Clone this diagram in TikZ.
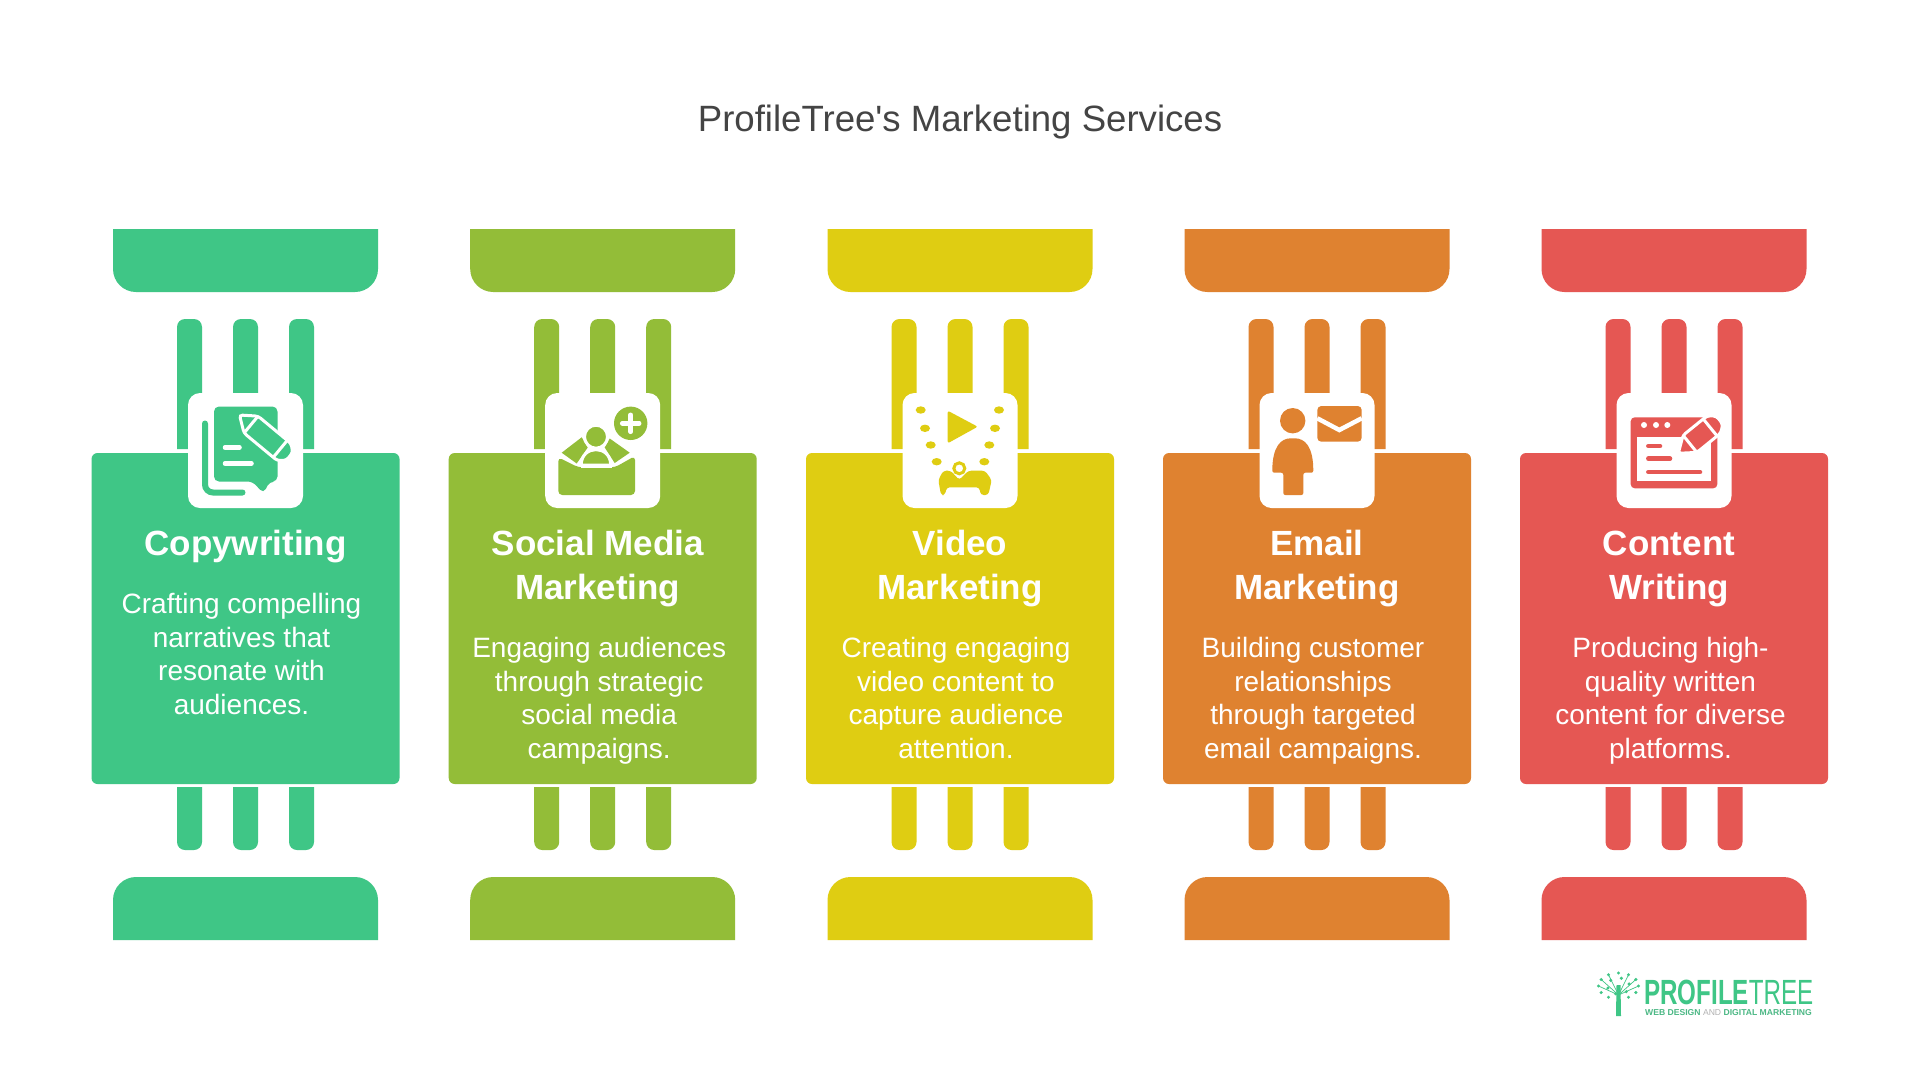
\documentclass[tikz,border=0pt]{standalone}
\usepackage{fontspec}
\setmainfont{Liberation Sans}
\newfontfamily\logofont[FakeStretch=0.69]{Liberation Sans}
\usetikzlibrary{positioning}

\definecolor{copyGreen}{HTML}{3FC686}
\definecolor{socialOlive}{HTML}{93BD38}
\definecolor{videoYellow}{HTML}{DFCD12}
\definecolor{mailOrange}{HTML}{DF8230}
\definecolor{writeRed}{HTML}{E55753}
\definecolor{titleGray}{HTML}{444444}

\tikzset{
  cardbox/.style={minimum width=308pt, minimum height=331pt, inner sep=0pt, rounded corners=6pt},
  iconbox/.style={minimum width=115pt, minimum height=115pt, inner sep=0pt, rounded corners=12pt, fill=white},
  headtext/.style={anchor=north, align=center, text=white, font=\fontsize{35}{44}\selectfont\bfseries, inner sep=0pt},
  bodytext/.style={anchor=north, align=center, text=white, font=\fontsize{28}{33.5}\selectfont, inner sep=0pt},
  cutline/.style={white, line width=4.5pt, line cap=round}
}

% pencil lying along x from its tip: colour, length
\newcommand{\pencilmark}[2]{
  \draw[draw=white, line width=3pt, fill=#1, rounded corners=3pt] (0,0) -- (15,-11) -- (#2-7,-11)
    -- (#2,-5) -- (#2,5) -- (#2-7,11) -- (15,11) -- cycle;
  \draw[white, line width=3pt] (15,-11) -- (15,11) (#2-12,-11) -- (#2-12,11);
}

\begin{document}
\begin{tikzpicture}[x=1pt, y=-1pt]
  \useasboundingbox[fill=white] (0,0) rectangle (1920,1080);

  \node[font=\fontsize{36.6}{44}\selectfont, text=titleGray] (heading) at (960,122) {ProfileTree\textquotesingle s Marketing Services};

  \foreach \i/\cx/\col/\head/\hdx/\body/\bdx in {
    1/245.5/copyGreen/{Copywriting}/0pt/{Crafting compelling\\narratives that\\resonate with\\audiences.}/-4pt,
    2/602.7/socialOlive/{Social Media\\Marketing}/-5pt/{Engaging audiences\\through strategic\\social media\\campaigns.}/1.5pt,
    3/960/videoYellow/{Video\\Marketing}/0pt/{Creating engaging\\video content to\\capture audience\\attention.}/-4pt,
    4/1317/mailOrange/{Email\\Marketing}/0pt/{Building customer\\relationships\\through targeted\\email campaigns.}/-4pt,
    5/1674/writeRed/{Content\\Writing}/-5pt/{Producing high-\\quality written\\content for diverse\\platforms.}/1.5pt} {
    % caps
    \fill[\col] (\cx-132.5,229) [rounded corners=23pt] -- (\cx-132.5,292) -- (\cx+132.5,292) [sharp corners] -- (\cx+132.5,229) -- cycle;
    \fill[\col] (\cx-132.5,940) [rounded corners=23pt] -- (\cx-132.5,877) -- (\cx+132.5,877) [sharp corners] -- (\cx+132.5,940) -- cycle;
    % bars
    \foreach \dx in {-56,0,56} {
      \fill[\col] (\cx+\dx-12.5,449) [rounded corners=8pt] -- (\cx+\dx-12.5,319) -- (\cx+\dx+12.5,319) [sharp corners] -- (\cx+\dx+12.5,449) -- cycle;
      \fill[\col] (\cx+\dx-12.5,787) [rounded corners=8pt] -- (\cx+\dx-12.5,850) -- (\cx+\dx+12.5,850) [sharp corners] -- (\cx+\dx+12.5,787) -- cycle;
    }
    \node[cardbox, fill=\col] (card\i) at (\cx,618.5) {};
    \node[iconbox] (icon\i) at (\cx,450.5) {};
    \node[headtext, xshift=\hdx] (head\i) at (\cx,524.8) {\rule{0pt}{30pt}\head};
    \node[bodytext, xshift=\bdx] (text\i) [below=27.7pt of head\i] {\strut\body};
  }

  % copywriting icon
  \begin{scope}[shift={(245.5,450.5)}]
    \fill[copyGreen, rounded corners=5pt] (-31.5,-44) -- (32,-44) -- (32,31) -- (24,31) -- (18,43) -- (7,31) -- (-31.5,31) -- cycle;
    \draw[copyGreen, line width=6pt, line cap=round, rounded corners=8pt] (-40.5,-27) -- (-40.5,42) -- (-3,42);
    \draw[cutline] (-20.5,-3) -- (-6,-3) (-20.5,13) -- (6,13);
    \begin{scope}[shift={(-6,-35.5)}, rotate=-39.7]
      \pencilmark{copyGreen}{65}
    \end{scope}
  \end{scope}

  % social media icon
  \begin{scope}[shift={(602.7,450.5)}]
    \fill[socialOlive, rounded corners=4pt] (-44.4,6.8) -- (-24.4,16.8) -- (12.3,16.8) -- (32.3,5.5) -- (32.3,44.5) -- (-44.4,44.5) -- cycle;
    \fill[socialOlive] (-41,2.2) -- (-21,-13.2) -- (-15,-3) -- (-26,13) -- cycle;
    \fill[socialOlive] (7,-12) -- (27,2.2) -- (12,12.5) -- (2,-3) -- cycle;
    \draw[draw=white, line width=3pt, fill=socialOlive] (-6.7,-13.8) circle (11.5pt);
    \draw[draw=white, line width=3pt, fill=socialOlive] (-21.5,14.5) .. controls (-21.5,-6) and (8,-6) .. (8,14.5) -- cycle;
    \fill[white] (-22,15) rectangle (9,17);
    \fill[socialOlive] (28,-27.2) circle (16.7pt);
    \draw[white, line width=4.5pt, line cap=round] (19.5,-27.2) -- (36.5,-27.2) (28,-35.7) -- (28,-18.7);
  \end{scope}

  % video icon
  \begin{scope}[shift={(960,450.5)}]
    \foreach \px/\py in {-39.3/-40.5, -35/-22.2, -29.3/-5.5, -23.3/11.2, 39/-40.5, 35/-22.2, 29.3/-5.5, 24.3/11.2}
      \fill[videoYellow] (\px,\py) ellipse [x radius=5pt, y radius=3.7pt];
    \fill[videoYellow, rounded corners=2pt] (-12.3,-39.8) -- (17.7,-23.8) -- (-12.3,-7.2) -- cycle;
    \draw[videoYellow, line width=3pt] (-0.7,17.8) circle (5.5pt);
    \fill[videoYellow, rounded corners=3pt] (-21.7,29.5) -- (-16.7,20.2) -- (-9.3,20.2) -- (-0.7,29.5) -- (8.3,20.2) -- (25,20.2) -- (31.7,29.5)
      -- (28.3,44.5) -- (20.7,44.5) -- (19.3,36.8) -- (-13.3,36.8) -- (-15,44.5) -- (-19,44.5) -- cycle;
  \end{scope}

  % email icon
  \begin{scope}[shift={(1317,450.5)}]
    \fill[mailOrange] (-24.3,-29.8) circle (12.7pt);
    \fill[mailOrange, rounded corners=2pt] (-44.7,22.2) .. controls (-44.7,-4) and (-36,-12.2) .. (-24.3,-12.2)
      .. controls (-12,-12.2) and (-3.7,-4) .. (-3.7,22.2) -- (-13.7,22.2) -- (-13.7,44.5) -- (-33.7,44.5) -- (-33.7,22.2) -- cycle;
    \fill[mailOrange, rounded corners=4pt] (0.3,-44.5) rectangle (44.7,-8.8);
    \draw[white, line width=4.5pt] (0.3,-32.2) -- (22.3,-20.5) -- (44.7,-32.2);
  \end{scope}

  % content writing icon
  \begin{scope}[shift={(1674,450.5)}]
    \fill[writeRed, rounded corners=4pt] (-43.3,-33.2) rectangle (43.3,37.8);
    \fill[white] (-36.7,-13.8) rectangle (36.7,30.5);
    \foreach \px in {-30,-18,-6.7}
      \fill[white] (\px,-25.5) circle (3pt);
    \draw[writeRed, line width=4.5pt, line cap=round] (-25.7,-4.5) -- (-14,-4.5) (-25.7,8.2) -- (-4,8.2) (-25.7,21.5) -- (26,21.5);
    \begin{scope}[shift={(4.3,2.8)}, rotate=39]
      \pencilmark{writeRed}{53}
    \end{scope}
  \end{scope}

  % logo
  \fill[copyGreen] (1616.5,985) -- (1620.5,985) -- (1621,1016) -- (1616,1016) -- cycle;
  \foreach \a in {0,30,...,330}
    \fill[copyGreen] ({1618.5+20*cos(\a)},{986-13*sin(\a)}) circle (1.7pt);
  \foreach \a in {15,75,...,345}
    \fill[copyGreen] ({1618.5+11*cos(\a)},{986-8*sin(\a)}) circle (1.7pt);
  \foreach \a in {30,60,120,150,180,0}
    \draw[copyGreen, line width=.7pt] (1618.5,995) -- ({1618.5+20*cos(\a)},{986-13*sin(\a)});
  \node[anchor=west, inner sep=0pt, text=copyGreen, font=\fontsize{35}{35}\selectfont\logofont] (logotree) at (1644,992)
    {\textbf{PROFILE}TREE};
  \node[anchor=west, inner sep=0pt, text=copyGreen!80!gray, font=\fontsize{8.6}{9}\selectfont\bfseries] (logotag) at (1645,1012.5)
    {WEB DESIGN {\mdseries\color{gray!60}AND} DIGITAL MARKETING};
\end{tikzpicture}
\end{document}
